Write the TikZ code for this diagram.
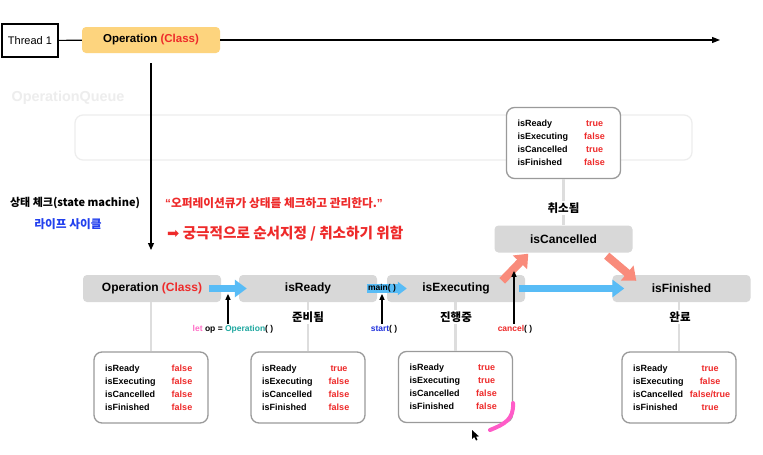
\documentclass[tikz,border=0pt]{standalone}
\usepackage{fontspec}
\setmainfont{Liberation Sans}
\newfontfamily\kr{Noto Sans CJK KR}
\newfontfamily\dejavu{DejaVu Sans}
\usetikzlibrary{arrows.meta}
\definecolor{vred}{HTML}{EE2A2A}
\definecolor{opyellow}{HTML}{FDD47E}
\definecolor{boxgray}{HTML}{D8D8D8}
\definecolor{sgray}{HTML}{9A9A9A}
\definecolor{lgray}{HTML}{DDDDDD}
\definecolor{qgray}{HTML}{EDEDED}
\definecolor{ablue}{HTML}{58BCF6}
\definecolor{salmon}{HTML}{F98B7B}
\definecolor{lblue}{HTML}{2341EE}
\definecolor{stblue}{HTML}{2233DD}
\definecolor{letpink}{HTML}{FF6EC7}
\definecolor{opteal}{HTML}{1FA8A0}
\definecolor{pinkmark}{HTML}{FF5CC8}
\newcommand\strow[2]{\makebox[62pt][l]{#1}\makebox[30pt][c]{\textcolor{vred}{#2}}}
\begin{document}
\begin{tikzpicture}[x=1pt,y=-1pt,
  mainbox/.style={fill=boxgray, rounded corners=4pt, minimum width=138pt, minimum height=27pt, inner sep=0pt, font=\fontsize{12}{14}\selectfont\bfseries},
  statebox/.style={draw=sgray, line width=1.3pt, fill=white, rounded corners=8pt, minimum width=114pt, minimum height=71pt, inner sep=0pt, align=left, font=\fontsize{9}{13}\selectfont\bfseries},
  conn/.style={draw=lgray, line width=2.5pt},
  krlabel/.style={fill=white, inner sep=2pt, font=\kr\bfseries\fontsize{11.5}{13}\selectfont},
  codelbl/.style={inner sep=1pt, font=\fontsize{8.5}{10}\selectfont\bfseries},
  thinarrow/.style={draw=black, line width=1.3pt, -{Triangle[length=6pt,width=5pt]}},
  bluearrow/.style={draw=ablue, line width=7pt, -{Triangle[length=12pt,width=17pt]}},
  smallblue/.style={draw=ablue, line width=9pt, -{Triangle[length=9pt,width=13pt]}},
  salarrow/.style={draw=salmon, line width=8pt, -{Triangle[length=12pt,width=19pt]}}
]
\useasboundingbox (0,0) rectangle (763,455);
\fill[white] (0,0) rectangle (763,455);

% OperationQueue background
\node[text=qgray, font=\fontsize{14.4}{16}\selectfont\bfseries] (oqlabel) at (68,98) {OperationQueue};
\draw[draw=qgray, line width=1.2pt, rounded corners=8pt] (75,115) rectangle (692,160);

% thread line
\node[draw=black, line width=1.2pt, fill=white, minimum width=56pt, minimum height=33pt, inner sep=0pt, font=\fontsize{11}{13}\selectfont] (thr) at (30,40.5) {Thread 1};
\node[fill=opyellow, rounded corners=4pt, minimum width=138pt, minimum height=26pt, inner sep=0pt, font=\fontsize{11.5}{13}\selectfont\bfseries] (optop) at (151,40) {Operation \textcolor{vred}{(Class)}};
\coordinate (tend) at (720,40);
\coordinate (qend) at (151,250);
\draw[line width=1.2pt] (thr) -- (optop);
\draw[line width=1.2pt, -{Triangle[length=8pt,width=6pt]}] (optop) -- (tend);
\draw[line width=1.2pt, -{Triangle[length=7pt,width=6pt]}] ([yshift=-10pt]optop.south) -- (qend);

% texts
\node[anchor=center, font=\kr\bfseries\fontsize{11}{13}\selectfont] (stchk) at (75,203) {상태 체크(state machine)};
\node[text=lblue, font=\kr\bfseries\fontsize{11.7}{13}\selectfont] (life) at (68,224) {라이프 사이클};
\node[anchor=west, inner sep=0pt, text=vred, font=\kr\bfseries\fontsize{11.7}{13}\selectfont] (quote) at (165,203) {{\rmfamily “}오퍼레이션큐가 상태를 체크하고 관리한다.{\rmfamily ”}};
\node[anchor=west, inner sep=0pt, text=vred, font=\kr\bfseries\fontsize{14.6}{16}\selectfont] (goal) at (167,234) {{\dejavu\mdseries ➡} 궁극적으로 순서지정 / 취소하기 위함};

% main boxes
\node[mainbox] (opm) at (152,288.5) {Operation \textcolor{vred}{(Class)}};
\node[mainbox] (ready) at (308,288.5) {isReady};
\node[mainbox] (exec) at (456,288.5) {isExecuting};
\node[mainbox] (fin) at (681.5,288.5) {isFinished};
\node[mainbox] (canc) at (563.5,239) {isCancelled};

% state boxes
\node[statebox] (s1) at (151,387.5) {\strow{isReady}{false}\\\strow{isExecuting}{false}\\\strow{isCancelled}{false}\\\strow{isFinished}{false}};
\node[statebox] (s2) at (308,387.5) {\strow{isReady}{true}\\\strow{isExecuting}{false}\\\strow{isCancelled}{false}\\\strow{isFinished}{false}};
\node[statebox] (s3) at (455.5,387) {\strow{isReady}{true}\\\strow{isExecuting}{true}\\\strow{isCancelled}{false}\\\strow{isFinished}{false}};
\node[statebox] (s4) at (679,387.5) {\strow{isReady}{true}\\\strow{isExecuting}{false}\\\strow{isCancelled}{false/true}\\\strow{isFinished}{true}};
\node[statebox] (sc) at (563.5,143) {\strow{isReady}{true}\\\strow{isExecuting}{false}\\\strow{isCancelled}{true}\\\strow{isFinished}{false}};

% connectors
\draw[conn] (s1.north) -- (s1.north |- opm.south);
\draw[conn] (s2.north) -- (s2.north |- ready.south);
\draw[conn] (s3.north) -- (s3.north |- exec.south);
\draw[conn] (s4.north) -- (s4.north |- fin.south);
\draw[conn] (sc.south) -- (sc.south |- canc.north);

% korean state labels
\node[krlabel] (jb) at (308,317) {준비됨};
\node[krlabel] (jh) at (456,317) {진행중};
\node[krlabel] (wl) at (680,317) {완료};
\node[krlabel] (cs) at (563.5,208) {취소됨};

% fat arrows
\draw[bluearrow] ([xshift=-12pt]opm.east) -- ([xshift=8pt]ready.west);
\draw[smallblue] ([xshift=-10pt]ready.east) -- ([xshift=20pt]exec.west);
\node[inner sep=0pt, font=\fontsize{8.5}{10}\selectfont\bfseries] (mainl) at (382,288) {main( )};
\draw[bluearrow] ([xshift=-6pt]exec.east) -- ([xshift=12pt]fin.west);
\draw[salarrow] ([xshift=-23pt,yshift=-6pt]exec.north east) -- ([xshift=34pt,yshift=-1pt]canc.south west);
\draw[salarrow] ([xshift=-26pt,yshift=-3pt]canc.south east) -- ([xshift=24pt,yshift=-6pt]fin.north west);

% code labels and thin arrows
\node[codelbl] (lbl1) at (233,329) {\textcolor{letpink}{let} op = \textcolor{opteal}{Operation}( )};
\node[codelbl] (lbl2) at (384,329) {\textcolor{stblue}{start}( )};
\node[codelbl] (lbl3) at (515,329) {\textcolor{vred}{cancel}( )};
\draw[thinarrow] ([xshift=-5pt]lbl1.north) -- ++(0,-30);
\draw[thinarrow] ([xshift=-2pt]lbl2.north) -- ++(0,-30);
\draw[thinarrow] ([xshift=-1pt]lbl3.north) -- ++(0,-53);

% pen mark and cursor
\draw[pinkmark, line width=4pt, line cap=round] (513,403) .. controls (514,419) and (505,424) .. (490,430);
\fill[black] (472,430) -- (472,439) -- (474.3,437) -- (476,440.5) -- (477.5,439.8) -- (476,436.6) -- (479,436.4) -- cycle;
\end{tikzpicture}
\end{document}
